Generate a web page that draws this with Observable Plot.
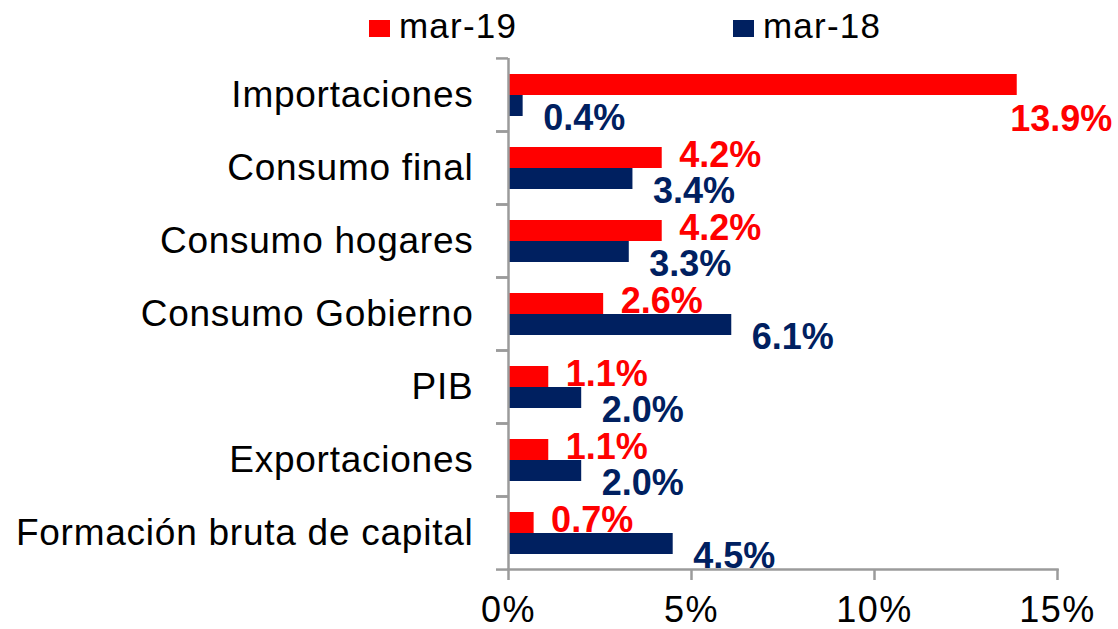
<!DOCTYPE html>
<html>
<head>
<meta charset="utf-8">
<script src="https://cdn.jsdelivr.net/npm/d3@7"></script>
<script src="https://cdn.jsdelivr.net/npm/@observablehq/plot@0.6"></script>
<style>
  html, body { margin: 0; padding: 0; background: #fff; }
  body { width: 1118px; height: 629px; overflow: hidden; font-family: "Liberation Sans", Arial, sans-serif; }
  #legend { position: relative; height: 50px; }
  #legend .sw { position: absolute; top: 20px; width: 21px; height: 17px; }
  #legend .lb { position: absolute; top: 6px; font-size: 35px; line-height: 40px; color: #000; letter-spacing: 1.2px; }
  svg { display: block; overflow: visible; }
  g[aria-label="fy-axis tick label"] text { letter-spacing: 0.75px; }
  g[aria-label="x-axis tick label"] text { letter-spacing: 1.5px; }
</style>
</head>
<body>
<div id="legend"></div>
<div id="chart"></div>
<script>
const categories = ["Importaciones", "Consumo final", "Consumo hogares", "Consumo Gobierno", "PIB", "Exportaciones", "Formación bruta de capital"];
const seriesNames = ["mar-19", "mar-18"];
const valuesMar19 = [13.9, 4.2, 4.2, 2.6, 1.1, 1.1, 0.7];
const valuesMar18 = [0.4, 3.4, 3.3, 6.1, 2.0, 2.0, 4.5];
const xTickValues = [0, 5, 10, 15];
const seriesColors = ["#ff0000", "#002060"];

const rows = categories.flatMap((c, i) => [
  {cat: c, series: seriesNames[0], v: valuesMar19[i]},
  {cat: c, series: seriesNames[1], v: valuesMar18[i]}
]);

// legend
const legend = document.getElementById("legend");
const legendLeft = [369, 733];
seriesNames.forEach((s, i) => {
  const sw = document.createElement("div");
  sw.className = "sw";
  sw.style.left = legendLeft[i] + "px";
  sw.style.background = seriesColors[i];
  const lb = document.createElement("div");
  lb.className = "lb";
  lb.style.left = (legendLeft[i] + 30) + "px";
  lb.textContent = s;
  legend.appendChild(sw);
  legend.appendChild(lb);
});

const W = 1118, H = 579, MT = 7, MB = 60, ML = 508, MR = 61;
const half = (H - MT - MB) / categories.length / 2;
const axisGray = "#9b9b9b";
const fmt = d => d.v.toFixed(1) + "%";
const fits = d => d.v < 12;

const labelOpts = {fy: "cat", y: "series", x: "v", text: fmt, fill: "series",
  fontWeight: "bold", fontSize: 36, textAnchor: "start"};

const plot = Plot.plot({
  width: W, height: H,
  marginTop: MT, marginBottom: MB, marginLeft: ML, marginRight: MR,
  style: {fontFamily: "'Liberation Sans', Arial, sans-serif", background: "white", overflow: "visible"},
  x: {domain: [0, 15], label: null},
  fy: {domain: categories, padding: 0, label: null},
  y: {domain: seriesNames, paddingInner: 0, paddingOuter: 0.7, axis: null},
  color: {domain: seriesNames, range: seriesColors},
  marks: [
    Plot.barX(rows, {fy: "cat", y: "series", x: "v", fill: "series"}),
    Plot.ruleX([0], {stroke: axisGray, strokeWidth: 2.5}),
    Plot.frame({anchor: "bottom", facetAnchor: "bottom", stroke: axisGray, strokeWidth: 2.5}),
    Plot.axisFy({anchor: "left", tickSize: 0, tickPadding: 35, fontSize: 37, fill: "black", label: null}),
    Plot.axisFy({anchor: "left", tickSize: 12, stroke: axisGray, strokeWidth: 2.5, fill: "none", dy: -half, label: null}),
    Plot.axisFy(categories.slice(-1), {anchor: "left", tickSize: 12, stroke: axisGray, strokeWidth: 2.5, fill: "none", dy: half, label: null}),
    Plot.axisX({ticks: xTickValues, tickFormat: d => d + "%", tickSize: 11, tickPadding: 16, fontSize: 36,
      stroke: axisGray, strokeWidth: 2.5, fill: "black", label: null}),
    Plot.text(rows.filter(d => d.series === seriesNames[0] && fits(d)), {...labelOpts, dx: 17, dy: -3}),
    Plot.text(rows.filter(d => d.series === seriesNames[1] && fits(d)), {...labelOpts, dx: 20, dy: 12}),
    Plot.text(rows.filter(d => !fits(d)), {...labelOpts, textAnchor: "end", dx: 95, dy: 34})
  ]
});
document.getElementById("chart").appendChild(plot);
</script>
</body>
</html>
